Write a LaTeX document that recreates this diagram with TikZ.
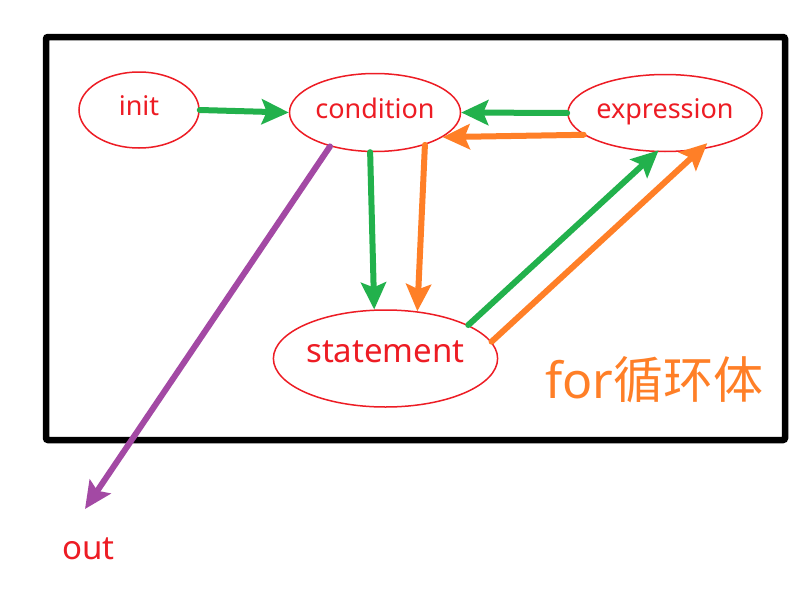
\documentclass[tikz,border=0pt]{standalone}
\usepackage{fontspec}
\setmainfont{Noto Sans}
\newfontfamily\cjk{Noto Sans CJK SC}
\usetikzlibrary{arrows.meta,shapes.geometric}
\definecolor{cred}{RGB}{237,28,36}
\definecolor{cgreen}{RGB}{34,177,76}
\definecolor{corange}{RGB}{255,127,39}
\definecolor{cpurple}{RGB}{163,73,164}
\begin{document}
\begin{tikzpicture}[x=1pt,y=-1pt,
  st/.style={ellipse, draw=cred, line width=1.5pt, inner sep=0pt, text=cred,
    font=\fontsize{27}{30}\selectfont, text height=18pt, text depth=7pt},
  arr/.style={line width=6pt, line cap=round, -{Stealth[length=27pt,width=25pt,inset=5pt]}},
  lbl/.style={inner sep=0pt, anchor=base west}
]
\useasboundingbox (0,0) rectangle (800,589);
\fill[white] (0,0) rectangle (800,589);
\draw[line width=6.5pt, rounded corners=2pt] (46,37) rectangle (785,440);
\node[st, minimum width=120pt, minimum height=76pt] (init) at (139,110) {init};
\node[st, minimum width=171pt, minimum height=78pt] (cond) at (375,112.5) {condition};
\node[st, minimum width=192pt, minimum height=77pt] (expr) at (665,113) {expression};
\node[st, minimum width=221pt, minimum height=97pt, font=\fontsize{33}{36}\selectfont,
  text height=20pt, text depth=13pt] (stmt) at (385.5,358.5) {statement};
\node[lbl, text=corange, font=\fontsize{50}{54}\selectfont] (forlbl) at (545,398) {for{\cjk 循环体}};
\node[lbl, text=cred, font=\fontsize{33}{36}\selectfont] (outlbl) at (62,559) {out};
\coordinate (outtip) at (85,509);
\draw[arr, cgreen] (init.east) -- (cond.west);
\draw[arr, cgreen] (expr.west) -- (cond.east);
\draw[arr, corange] (expr.195.6) -- (cond.-20.2);
\draw[arr, cgreen] (cond.-97.7) -- (stmt.103.9);
\draw[arr, corange] (cond.-33.1) -- (stmt.56.2);
\draw[arr, cgreen, shorten >=-2.6pt] (stmt.22.7) -- (expr.-102.2);
\draw[arr, corange, shorten >=-9.5pt] (stmt.9) -- (expr.-46);
\draw[arr, cpurple] (cond.-143.3) -- (outtip);
\end{tikzpicture}
\end{document}
